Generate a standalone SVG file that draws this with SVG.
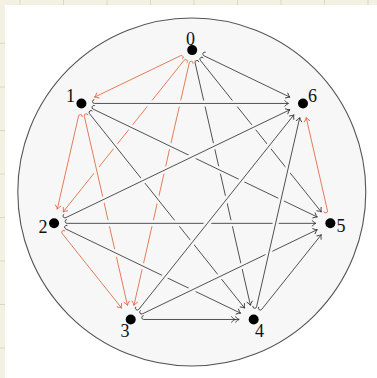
<svg xmlns="http://www.w3.org/2000/svg" width="377" height="378" viewBox="0 0 377 378">
<style>
.bg{fill:#f4f1e2}
.gl{stroke:#dcd7c3;stroke-width:1}
.disk{fill:#f7f7f7;stroke:#555;stroke-width:1.1}
.dot{fill:#000}
.lbl{font-family:"Liberation Serif","DejaVu Serif",serif;font-size:18px;fill:#111;text-anchor:middle}
.halo{fill:none;stroke:#f7f7f7;stroke-width:6}
.k{fill:none;stroke:#333;stroke-width:0.85}
.r{fill:none;stroke:#e2643e;stroke-width:0.85}
.mk{fill:none;stroke:none}
</style>
<defs>
<marker id="hK" markerUnits="userSpaceOnUse" orient="auto" overflow="visible" markerWidth="1" markerHeight="1" refX="0" refY="0"><path d="M-4,-3 Q-1.4,-0.4 0,0 Q-1.4,0.4 -4,3" fill="none" stroke="#333" stroke-width="0.85"/></marker>
<marker id="hK2" markerUnits="userSpaceOnUse" orient="auto" overflow="visible" markerWidth="1" markerHeight="1" refX="0" refY="0"><path d="M-4,-3 Q-1.4,-0.4 0,0 Q-1.4,0.4 -4,3 M-8,-3 Q-5.4,-0.4 -4,0 Q-5.4,0.4 -8,3" fill="none" stroke="#333" stroke-width="0.85"/></marker>
<marker id="hR" markerUnits="userSpaceOnUse" orient="auto" overflow="visible" markerWidth="1" markerHeight="1" refX="0" refY="0"><path d="M-4,-3 Q-1.4,-0.4 0,0 Q-1.4,0.4 -4,3" fill="none" stroke="#e2643e" stroke-width="0.85"/></marker>
<marker id="tK" markerUnits="userSpaceOnUse" orient="auto" overflow="visible" markerWidth="1" markerHeight="1" refX="0" refY="0"><path d="M0,0 A1.9,1.9 0 0 1 0,-3.8" fill="none" stroke="#333" stroke-width="0.85"/></marker>
<marker id="tR" markerUnits="userSpaceOnUse" orient="auto" overflow="visible" markerWidth="1" markerHeight="1" refX="0" refY="0"><path d="M0,0 A1.9,1.9 0 0 1 0,-3.8" fill="none" stroke="#e2643e" stroke-width="0.85"/></marker>
</defs>
<rect x="0" y="0" width="377" height="378" fill="#fff"/>
<rect class="bg" x="0" y="0" width="377" height="5"/>
<rect class="bg" x="0" y="0" width="5" height="378"/>
<g class="gl">
<line x1="20" y1="0" x2="20" y2="5"/><line x1="63.5" y1="0" x2="63.5" y2="5"/><line x1="107" y1="0" x2="107" y2="5"/><line x1="150.5" y1="0" x2="150.5" y2="5"/><line x1="194" y1="0" x2="194" y2="5"/><line x1="237.5" y1="0" x2="237.5" y2="5"/><line x1="281" y1="0" x2="281" y2="5"/><line x1="324.5" y1="0" x2="324.5" y2="5"/><line x1="368" y1="0" x2="368" y2="5"/>
<line x1="0" y1="43.3" x2="5" y2="43.3"/><line x1="0" y1="87" x2="5" y2="87"/><line x1="0" y1="130.5" x2="5" y2="130.5"/><line x1="0" y1="174" x2="5" y2="174"/><line x1="0" y1="217.5" x2="5" y2="217.5"/><line x1="0" y1="261" x2="5" y2="261"/><line x1="0" y1="304.5" x2="5" y2="304.5"/><line x1="0" y1="348" x2="5" y2="348"/>
</g>
<circle class="disk" cx="191.8" cy="192" r="174"/>
<g id="edges">
<path class="halo" d="M180.49,55.74 L94.47,97.16"/><path class="r" d="M180.49,55.74 L94.47,97.16"/>
<path class="halo" d="M184.09,60.26 L63.09,211.99"/><path class="r" d="M184.09,60.26 L63.09,211.99"/>
<path class="halo" d="M189.31,62.77 L133.95,305.33"/><path class="r" d="M189.31,62.77 L133.95,305.33"/>
<path class="halo" d="M195.09,62.77 L250.45,305.33"/><path class="k" d="M195.09,62.77 L250.45,305.33"/>
<path class="halo" d="M200.31,60.26 L321.31,211.99"/><path class="k" d="M200.31,60.26 L321.31,211.99"/>
<path class="halo" d="M203.91,55.74 L289.93,97.16"/><path class="k" d="M203.91,55.74 L289.93,97.16"/>
<path class="halo" d="M78.52,116.12 L57.28,209.19"/><path class="r" d="M78.52,116.12 L57.28,209.19"/>
<path class="halo" d="M84.30,116.12 L127.49,305.33"/><path class="r" d="M84.30,116.12 L127.49,305.33"/>
<path class="halo" d="M89.52,113.61 L244.64,308.13"/><path class="k" d="M89.52,113.61 L244.64,308.13"/>
<path class="halo" d="M93.12,109.09 L317.29,217.04"/><path class="k" d="M93.12,109.09 L317.29,217.04"/>
<path class="halo" d="M94.41,103.45 L288.49,103.45"/><path class="k" d="M94.41,103.45 L288.49,103.45"/>
<path class="halo" d="M62.16,233.49 L121.68,308.13"/><path class="r" d="M62.16,233.49 L121.68,308.13"/>
<path class="halo" d="M65.76,228.97 L240.62,313.18"/><path class="k" d="M65.76,228.97 L240.62,313.18"/>
<path class="halo" d="M67.05,223.33 L315.85,223.33"/><path class="k" d="M67.05,223.33 L315.85,223.33"/>
<path class="halo" d="M65.76,217.69 L289.93,109.74"/><path class="k" d="M65.76,217.69 L289.93,109.74"/>
<path class="halo" d="M143.72,319.47 L239.18,319.47"/><path class="k" d="M143.72,319.47 L239.18,319.47"/>
<path class="halo" d="M142.43,313.83 L317.29,229.62"/><path class="k" d="M142.43,313.83 L317.29,229.62"/>
<path class="halo" d="M138.83,309.31 L293.95,114.79"/><path class="k" d="M138.83,309.31 L293.95,114.79"/>
<path class="halo" d="M261.79,309.31 L321.31,234.67"/><path class="k" d="M261.79,309.31 L321.31,234.67"/>
<path class="halo" d="M256.57,306.80 L299.76,117.59"/><path class="k" d="M256.57,306.80 L299.76,117.59"/>
<path class="halo" d="M327.46,210.66 L306.22,117.59"/><path class="r" d="M327.46,210.66 L306.22,117.59"/>
<g class="mk">
<path d="M180.49,55.74 L94.47,97.16" marker-start="url(#tR)" marker-end="url(#hR)"/>
<path d="M184.09,60.26 L63.09,211.99" marker-start="url(#tR)" marker-end="url(#hR)"/>
<path d="M189.31,62.77 L133.95,305.33" marker-start="url(#tR)" marker-end="url(#hR)"/>
<path d="M195.09,62.77 L250.45,305.33" marker-start="url(#tK)" marker-end="url(#hK)"/>
<path d="M200.31,60.26 L321.31,211.99" marker-start="url(#tK)" marker-end="url(#hK)"/>
<path d="M203.91,55.74 L289.93,97.16" marker-start="url(#tK)" marker-end="url(#hK)"/>
<path d="M78.52,116.12 L57.28,209.19" marker-start="url(#tR)" marker-end="url(#hR)"/>
<path d="M84.30,116.12 L127.49,305.33" marker-start="url(#tR)" marker-end="url(#hR)"/>
<path d="M89.52,113.61 L244.64,308.13" marker-start="url(#tK)" marker-end="url(#hK)"/>
<path d="M93.12,109.09 L317.29,217.04" marker-start="url(#tK)" marker-end="url(#hK)"/>
<path d="M94.41,103.45 L288.49,103.45" marker-start="url(#tK)" marker-end="url(#hK)"/>
<path d="M62.16,233.49 L121.68,308.13" marker-start="url(#tR)" marker-end="url(#hR)"/>
<path d="M65.76,228.97 L240.62,313.18" marker-start="url(#tK)" marker-end="url(#hK)"/>
<path d="M67.05,223.33 L315.85,223.33" marker-start="url(#tK)" marker-end="url(#hK)"/>
<path d="M65.76,217.69 L289.93,109.74" marker-start="url(#tK)" marker-end="url(#hK)"/>
<path d="M143.72,319.47 L239.18,319.47" marker-start="url(#tK)" marker-end="url(#hK2)"/>
<path d="M142.43,313.83 L317.29,229.62" marker-start="url(#tK)" marker-end="url(#hK)"/>
<path d="M138.83,309.31 L293.95,114.79" marker-start="url(#tK)" marker-end="url(#hK)"/>
<path d="M261.79,309.31 L321.31,234.67" marker-start="url(#tK)" marker-end="url(#hK)"/>
<path d="M256.57,306.80 L299.76,117.59" marker-start="url(#tK)" marker-end="url(#hK)"/>
<path d="M327.46,210.66 L306.22,117.59" marker-start="url(#tR)" marker-end="url(#hR)"/>
</g>
</g>
<g id="n0"><circle class="dot" cx="192.2" cy="50.1" r="5"/><text class="lbl" x="190.5" y="45">0</text></g>
<g id="n1"><circle class="dot" cx="81.41" cy="103.45" r="5"/><text class="lbl" x="70.5" y="101.7">1</text></g>
<g id="n2"><circle class="dot" cx="54.05" cy="223.33" r="5"/><text class="lbl" x="43" y="232.5">2</text></g>
<g id="n3"><circle class="dot" cx="130.72" cy="319.47" r="5"/><text class="lbl" x="125" y="336.7">3</text></g>
<g id="n4"><circle class="dot" cx="253.68" cy="319.47" r="5"/><text class="lbl" x="259.5" y="336.7">4</text></g>
<g id="n5"><circle class="dot" cx="330.35" cy="223.33" r="5"/><text class="lbl" x="341" y="231.7">5</text></g>
<g id="n6"><circle class="dot" cx="302.99" cy="103.45" r="5"/><text class="lbl" x="312.5" y="101.7">6</text></g>
</svg>
